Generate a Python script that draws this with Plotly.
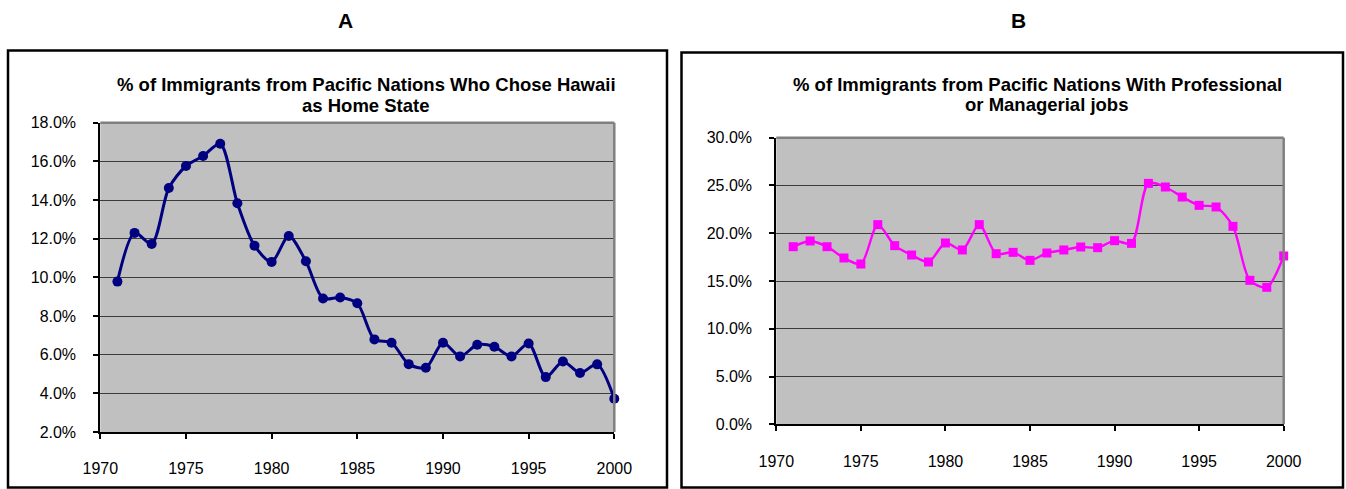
import plotly.graph_objects as go

W, H = 1346, 489

years = list(range(1971, 2001))

# Chart A: % of immigrants from Pacific nations who chose Hawaii
hawaii_pct = [9.78, 12.30, 11.73, 14.62, 15.76, 16.28, 16.91, 13.83, 11.64, 10.80,
              12.14, 10.83, 8.91, 8.96, 8.66, 6.79, 6.62, 5.51, 5.32, 6.62,
              5.91, 6.51, 6.41, 5.91, 6.58, 4.84, 5.65, 5.05, 5.50, 3.72]

# Chart B: % with professional or managerial jobs
prof_pct = [18.59, 19.19, 18.59, 17.41, 16.78, 20.90, 18.70, 17.72, 16.99, 18.98,
            18.25, 20.90, 17.86, 18.00, 17.16, 17.93, 18.25, 18.56, 18.49, 19.22,
            18.94, 25.22, 24.84, 23.79, 22.92, 22.75, 20.72, 15.07, 14.34, 17.62]

x_ticks = [1970, 1975, 1980, 1985, 1990, 1995, 2000]
yA_ticks = [2, 4, 6, 8, 10, 12, 14, 16, 18]
yB_ticks = [0, 5, 10, 15, 20, 25, 30]

FONT = "Liberation Sans, Arial, sans-serif"


def px_x(p):
    return p / W


def px_y(p):
    return 1 - p / H


fig = go.Figure()

fig.add_trace(go.Scatter(
    x=years, y=hawaii_pct, xaxis="x", yaxis="y",
    mode="lines+markers", cliponaxis=False,
    line=dict(color="#000080", width=3, shape="spline", smoothing=0.8),
    marker=dict(symbol="circle", size=10, color="#000080"),
    showlegend=False, hoverinfo="x+y",
))
fig.add_trace(go.Scatter(
    x=years, y=prof_pct, xaxis="x2", yaxis="y2",
    mode="lines+markers", cliponaxis=False,
    line=dict(color="#FF00FF", width=2.4, shape="spline", smoothing=0.8),
    marker=dict(symbol="square", size=9, color="#FF00FF"),
    showlegend=False, hoverinfo="x+y",
))

common_x = dict(
    range=[1970, 2000], tickvals=x_ticks, ticktext=[str(v) for v in x_ticks],
    ticks="outside", ticklen=5, automargin=False,
    tickwidth=1.5, tickcolor="black", showgrid=False, zeroline=False,
    showline=True, linecolor="black", linewidth=2,
    tickfont=dict(family=FONT, size=16, color="black"),
    ticklabelstandoff=16, fixedrange=True,
)
common_y = dict(
    ticks="outside", ticklen=5, tickwidth=1.5, tickcolor="black", automargin=False,
    showgrid=True, gridcolor="#3c3c3c", gridwidth=1, zeroline=False,
    showline=True, linecolor="black", linewidth=2,
    tickfont=dict(family=FONT, size=16, color="black"),
    ticklabelstandoff=14, fixedrange=True,
)

xA = [px_x(100.3), px_x(614.3)]
yA = [px_y(432), px_y(122.7)]
xB = [px_x(776.3), px_x(1283.7)]
yB = [px_y(424.3), px_y(137.7)]

fig.update_layout(
    template="none",
    width=W, height=H,
    margin=dict(l=0, r=0, t=0, b=0, pad=0),
    paper_bgcolor="white",
    plot_bgcolor="#C0C0C0",
    xaxis=dict(domain=xA, anchor="y", **common_x),
    yaxis=dict(domain=yA, anchor="x", range=[2, 18], tickvals=yA_ticks,
               ticktext=[f"{v:.1f}%" for v in yA_ticks], **common_y),
    xaxis2=dict(domain=xB, anchor="y2", **common_x),
    yaxis2=dict(domain=yB, anchor="x2", range=[0, 30], tickvals=yB_ticks,
                ticktext=[f"{v:.1f}%" for v in yB_ticks], **common_y),
)

shapes = []
# outer chart boxes
shapes.append(dict(type="rect", xref="paper", yref="paper",
                   x0=px_x(8), x1=px_x(667), y0=px_y(487.5), y1=px_y(50.5),
                   line=dict(color="black", width=2.5), layer="below"))
shapes.append(dict(type="rect", xref="paper", yref="paper",
                   x0=px_x(681.5), x1=px_x(1343), y0=px_y(487.5), y1=px_y(52.5),
                   line=dict(color="black", width=2.5), layer="below"))
# gray top/right plot-area borders
for xr, yr in (("x", "y"), ("x2", "y2")):
    shapes.append(dict(type="line", xref=f"{xr} domain", yref=f"{yr} domain",
                       x0=0, x1=1, y0=1, y1=1, line=dict(color="#808080", width=2.5)))
    shapes.append(dict(type="line", xref=f"{xr} domain", yref=f"{yr} domain",
                       x0=1, x1=1, y0=0, y1=1, line=dict(color="#808080", width=2.5)))
fig.update_layout(shapes=shapes)

ann = []


def add_text(text, xpx, ypx, size, bold=True):
    ann.append(dict(
        text=f"<b>{text}</b>" if bold else text,
        xref="paper", yref="paper", x=px_x(xpx), y=px_y(ypx),
        xanchor="center", yanchor="middle", showarrow=False,
        font=dict(family=FONT, size=size, color="black"),
    ))


add_text("A", 346, 20, 21)
add_text("B", 1018, 20, 21)
add_text("% of Immigrants from Pacific Nations Who Chose Hawaii", 367, 84, 18.5)
add_text("as Home State", 366, 106, 18.5)
add_text("% of Immigrants from Pacific Nations With Professional", 1037, 84.5, 18.5)
add_text("or Managerial jobs", 1046, 105, 18.5)
fig.update_layout(annotations=ann)

fig.write_html("out.html")
